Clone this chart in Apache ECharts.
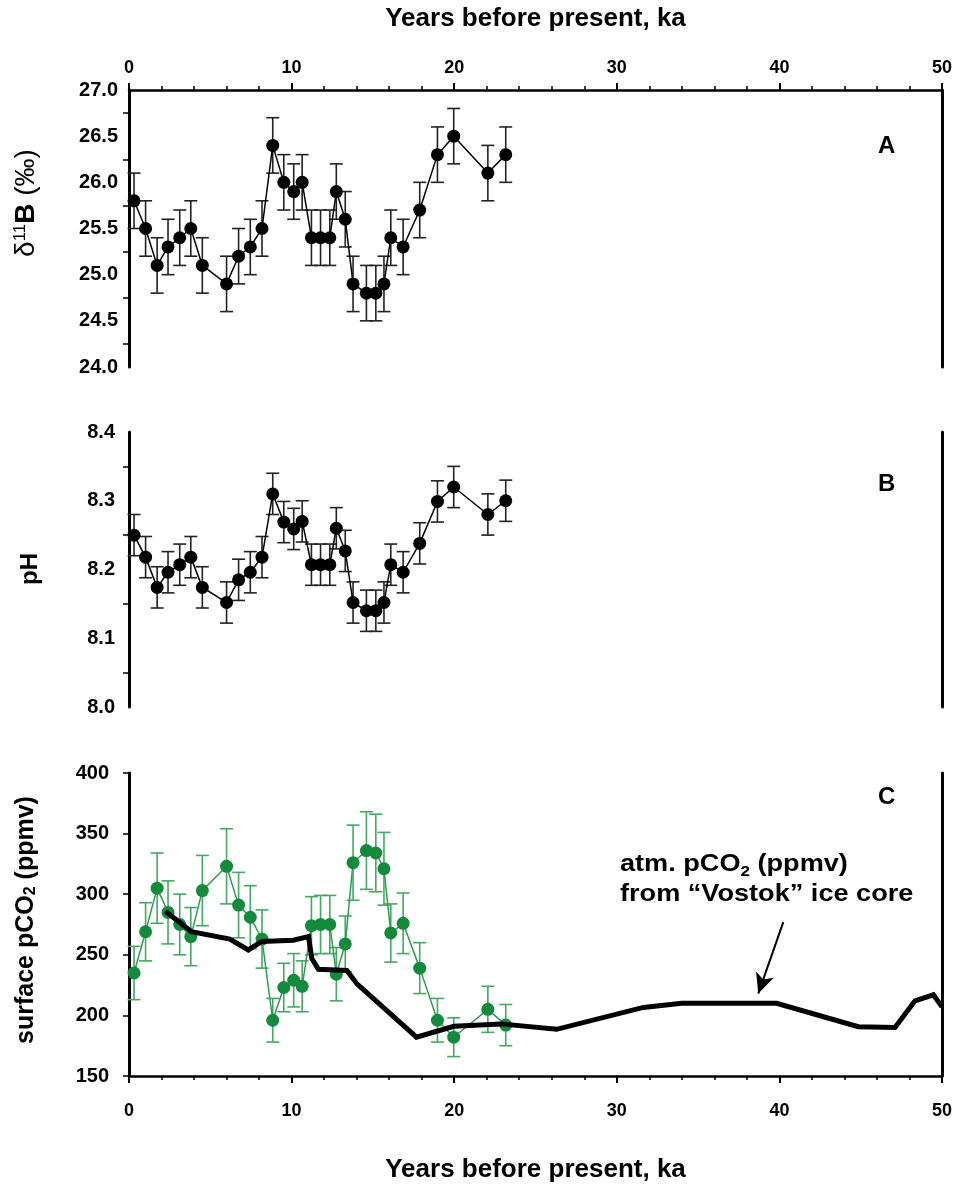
<!DOCTYPE html>
<html>
<head>
<meta charset="utf-8">
<script src="https://cdn.jsdelivr.net/npm/echarts@6/dist/echarts.min.js"></script>
<style>
html,body{margin:0;padding:0;background:#fff;}
#chart{width:958px;height:1186px;}
</style>
</head>
<body>
<div id="chart"></div>
<script>
// ---- data (ka before present) ----
const ages = [0.31,1.02,1.73,2.40,3.12,3.80,4.51,6.00,6.74,7.46,8.18,8.84,9.52,10.13,10.65,11.22,11.78,12.35,12.75,13.30,13.78,14.60,15.18,15.68,16.10,16.86,17.88,18.97,19.97,22.07,23.17];
const d11B = [25.8,25.5,25.1,25.3,25.4,25.5,25.1,24.9,25.2,25.3,25.5,26.4,26.0,25.9,26.0,25.4,25.4,25.4,25.9,25.6,24.9,24.8,24.8,24.9,25.4,25.3,25.7,26.3,26.5,26.1,26.3];
const d11BErr = [0.3,0.3,0.3,0.3,0.3,0.3,0.3,0.3,0.3,0.3,0.3,0.3,0.3,0.3,0.3,0.3,0.3,0.3,0.3,0.3,0.3,0.3,0.3,0.3,0.3,0.3,0.3,0.3,0.3,0.3,0.3];
const pH = [8.250,8.218,8.174,8.196,8.207,8.218,8.174,8.152,8.185,8.196,8.218,8.310,8.269,8.259,8.270,8.207,8.207,8.207,8.260,8.227,8.152,8.140,8.140,8.152,8.207,8.196,8.238,8.299,8.320,8.280,8.300];
const pHErr = [0.03,0.03,0.03,0.03,0.03,0.03,0.03,0.03,0.03,0.03,0.03,0.03,0.03,0.03,0.03,0.03,0.03,0.03,0.03,0.03,0.03,0.03,0.03,0.03,0.03,0.03,0.03,0.03,0.03,0.03,0.03];
const pCO2 = [235,269,305,285,275,265,303,323,291,281,263,196,223,229,224,274,275,275,234,259,326,336,334,321,268,276,239,196,182,205,192];
const pCO2Err = [22,24,29,26,25,24,29,31,27,26,24,18,20,22,21,24,24,24,22,23,31,32,32,30,24,25,21,18,16,19,17];
const vostokAge = [2.24,3.84,6.20,7.34,8.16,10.11,11.04,11.24,11.65,13.40,14.02,17.68,19.98,22.86,26.30,31.63,33.99,39.83,44.85,47.11,48.34,49.47,50.00];
const vostokCO2 = [286,269,263,254,261,262,265,247,238,237,226,182,191,193,188.5,206.6,210,210,190.7,190,212,217,207];
const xTicks = [0,10,20,30,40,50];
const arrowFrom = [40.24,277];
const arrowTo = [38.7,218];

const FONT = 'Liberation Sans, Arial, Helvetica, sans-serif';
const GREEN = '#138a3c';
const GREEN_ERR = '#45a862';

function pts(xs, ys){ return xs.map((x,i)=>[x, ys[i]]); }
function errs(xs, ys, es){ return xs.map((x,i)=>[x, ys[i]-es[i], ys[i]+es[i]]); }

function errorBars(idx, data, color){
  return {
    type:'custom', xAxisIndex:idx, yAxisIndex:idx*2, data:data, silent:true, z:1,
    encode:{x:0, y:[1,2]},
    renderItem:function(params, api){
      const x = api.value(0), lo = api.value(1), hi = api.value(2);
      const p1 = api.coord([x, hi]), p2 = api.coord([x, lo]);
      const h = 6.5;
      const st = {stroke:color, lineWidth:1.6};
      return {type:'group', children:[
        {type:'line', shape:{x1:p1[0],y1:p1[1],x2:p2[0],y2:p2[1]}, style:st},
        {type:'line', shape:{x1:p1[0]-h,y1:p1[1],x2:p1[0]+h,y2:p1[1]}, style:st},
        {type:'line', shape:{x1:p2[0]-h,y1:p2[1],x2:p2[0]+h,y2:p2[1]}, style:st}
      ]};
    }
  };
}

const chart = echarts.init(document.getElementById('chart'), null, {renderer:'canvas'});

const axisLabelStyle = {fontFamily:FONT, fontWeight:'bold', fontSize:18, color:'#000'};
const grids = [
  {left:129, right:16, top:90, height:277},
  {left:129, right:16, top:432, height:275},
  {left:129, right:16, top:773, height:303}
];

function xAxisCfg(idx, pos, show){
  return {
    gridIndex:idx, type:'value', min:xTicks[0], max:xTicks[xTicks.length-1], interval:10,
    position:pos, show:show,
    axisLine:{show:true, onZero:false, lineStyle:{color:'#000', width:2.5}},
    axisTick:{show:true, inside:false, length:7, lineStyle:{color:'#000', width:2}},
    minorTick:{show:true, splitNumber:5, length:4, lineStyle:{color:'#000', width:1.5}},
    axisLabel:Object.assign({margin: pos==='top'?13:26}, axisLabelStyle),
    splitLine:{show:false},
    name:'Years before present, ka', nameLocation:'middle',
    nameGap: pos==='top'?58:81,
    nameTextStyle:{fontFamily:FONT, fontWeight:'bold', fontSize:26, color:'#000'}
  };
}

function yLeft(idx, min, max, interval, digits, minor, margin, tickShow){
  return {
    gridIndex:idx, type:'value', min:min, max:max, interval:interval, position:'left',
    axisLine:{show:true, onZero:false, lineStyle:{color:'#000', width:3}},
    axisTick:{show:tickShow, inside:false, length:6, lineStyle:{color:'#000', width:1.5}},
    minorTick:{show:minor, splitNumber:2, length:6, lineStyle:{color:'#000', width:1.5}},
    axisLabel:Object.assign({margin:margin, formatter:function(v){return v.toFixed(digits);}}, axisLabelStyle, {fontSize:20}),
    splitLine:{show:false}
  };
}
function yRight(idx, min, max){
  return {
    gridIndex:idx, type:'value', min:min, max:max, position:'right',
    axisLine:{show:true, onZero:false, lineStyle:{color:'#000', width:3}},
    axisTick:{show:false}, axisLabel:{show:false}, splitLine:{show:false}
  };
}

function vTitle(text, cx, cy, rich){
  return {type:'text', x:cx, y:cy, rotation:Math.PI/2, silent:true,
    style:{text:text, textAlign:'center', textVerticalAlign:'middle', align:'center', verticalAlign:'middle', rich:rich}};
}

const richD = {
  n:{fontFamily:FONT, fontSize:28, fontWeight:'normal', fill:'#000'},
  s:{fontFamily:FONT, fontSize:17, fontWeight:'normal', fill:'#000', verticalAlign:'top'},
  b:{fontFamily:FONT, fontSize:28, fontWeight:'bold', fill:'#000'}
};
const richP = {
  b:{fontFamily:FONT, fontSize:24, fontWeight:'bold', fill:'#000'}
};
const richC = {
  b:{fontFamily:FONT, fontSize:25, fontWeight:'bold', fill:'#000'},
  sub:{fontFamily:FONT, fontSize:16, fontWeight:'bold', fill:'#000', verticalAlign:'bottom'}
};

const option = {
  animation:false,
  backgroundColor:'#fff',
  grid:grids,
  xAxis:[xAxisCfg(0,'top',true), xAxisCfg(1,'bottom',false), xAxisCfg(2,'bottom',true)],
  yAxis:[
    yLeft(0, 24, 27, 0.5, 1, true, 11, false),
    yRight(0, 24, 27),
    yLeft(1, 8.0, 8.4, 0.1, 1, true, 14, false),
    yRight(1, 8.0, 8.4),
    yLeft(2, 150, 400, 50, 0, false, 20, true),
    yRight(2, 150, 400)
  ],
  series:[
    errorBars(0, errs(ages, d11B, d11BErr), '#222'),
    {type:'line', xAxisIndex:0, yAxisIndex:0, data:pts(ages, d11B), symbol:'circle', symbolSize:13,
     itemStyle:{color:'#000'}, lineStyle:{color:'#000', width:1.5}, z:2, silent:true},
    errorBars(1, errs(ages, pH, pHErr), '#222'),
    {type:'line', xAxisIndex:1, yAxisIndex:2, data:pts(ages, pH), symbol:'circle', symbolSize:13,
     itemStyle:{color:'#000'}, lineStyle:{color:'#000', width:1.5}, z:2, silent:true},
    errorBars(2, errs(ages, pCO2, pCO2Err), GREEN_ERR),
    {type:'line', xAxisIndex:2, yAxisIndex:4, data:pts(ages, pCO2), symbol:'circle', symbolSize:13,
     itemStyle:{color:GREEN}, lineStyle:{color:'#2f9c50', width:1.5}, z:2, silent:true},
    {type:'line', xAxisIndex:2, yAxisIndex:4, data:pts(vostokAge, vostokCO2), showSymbol:false, symbol:'none',
     lineStyle:{color:'#000', width:5, join:'miter'}, z:3, silent:true,
     markLine:{silent:true, symbol:['none','arrow'], symbolSize:[14,20], label:{show:false},
       lineStyle:{color:'#000', width:2, type:'solid'},
       data:[[{coord:arrowFrom},{coord:arrowTo}]]}}
  ],
  graphic:[
    vTitle('{n|δ}{s|11}{b|B}{n| (‰)}', 26, 203, richD),
    vTitle('{b|pH}', 30, 569, richP),
    vTitle('{b|surface pCO}{sub|2}{b| (ppmv)}', 26, 920, richC),
    {type:'text', left:878, top:134, style:{text:'A', font:'bold 24px '+FONT, fill:'#000'}},
    {type:'text', left:878, top:472, style:{text:'B', font:'bold 24px '+FONT, fill:'#000'}},
    {type:'text', left:878, top:785, style:{text:'C', font:'bold 24px '+FONT, fill:'#000'}},
    {type:'text', x:620, y:849, scaleX:1.13, silent:true, style:{
      text:'{b|atm. pCO}{sub|2}{b| (ppmv)}\n{b|from “Vostok” ice core}',
      fill:'#000', lineHeight:30,
      rich:{
        b:{fontFamily:FONT, fontSize:24, fontWeight:'bold', fill:'#000', lineHeight:30},
        sub:{fontFamily:FONT, fontSize:15, fontWeight:'bold', fill:'#000', verticalAlign:'bottom', lineHeight:30}
      }}}
  ]
};
chart.setOption(option);
</script>
</body>
</html>
